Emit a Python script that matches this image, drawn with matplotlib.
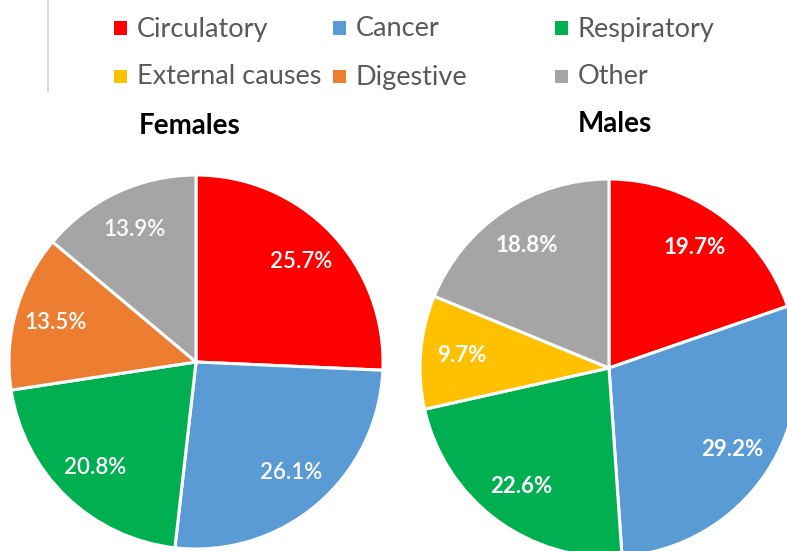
import matplotlib
matplotlib.use('Agg')
import matplotlib.pyplot as plt
from matplotlib.patches import Rectangle
from matplotlib.lines import Line2D

# data
female_labels = ['Circulatory', 'Cancer', 'Respiratory', 'Digestive', 'Other']
female_values = [25.7, 26.1, 20.8, 13.5, 13.9]
male_labels = ['Circulatory', 'Cancer', 'Respiratory', 'External causes', 'Other']
male_values = [19.7, 29.2, 22.6, 9.7, 18.8]

legend_order = ['Circulatory', 'Cancer', 'Respiratory',
                'External causes', 'Digestive', 'Other']
colours = {'Circulatory': '#FF0000', 'Cancer': '#5B9BD5', 'Respiratory': '#00B050',
           'External causes': '#FFC000', 'Digestive': '#ED7D31', 'Other': '#A5A5A5'}

W, H = 787, 551
plt.rcParams['font.family'] = ['Lato', 'DejaVu Sans']
fig = plt.figure(figsize=(W / 100, H / 100), dpi=100, facecolor='white')


def px_axes(cx, cy, r):
  # axes box in pixel coords (y from top)
  return fig.add_axes([(cx - r) / W, (H - cy - r) / H, 2 * r / W, 2 * r / H])


def draw_pie(ax, labels, values, weight):
  ax.pie(values, colors=[colours[l] for l in labels], startangle=90, counterclock=False,
         radius=1.0, autopct=lambda p: '{:.1f}%'.format(p), pctdistance=0.78,
         wedgeprops=dict(edgecolor='white', linewidth=2.2),
         textprops=dict(color='white', fontsize=16, fontweight=weight))
  ax.set_xlim(-1.0, 1.0)
  ax.set_ylim(-1.0, 1.0)
  ax.set_aspect('equal')
  ax.axis('off')


ax1 = px_axes(196, 362, 187)
draw_pie(ax1, female_labels, female_values, 'semibold')
ax2 = px_axes(609, 368, 189)
draw_pie(ax2, male_labels, male_values, 'bold')

fig.text(190 / W, 1 - 126 / H, 'Females', ha='center', va='center',
         fontsize=20, fontweight='bold', color='black')
fig.text(615 / W, 1 - 124 / H, 'Males', ha='center', va='center',
         fontsize=20, fontweight='bold', color='black')

# legend laid out by hand, 3 columns x 2 rows
col_x = [114, 333, 555]
row_y = [28, 76]
for i, name in enumerate(legend_order):
  x = col_x[i % 3]
  y = row_y[i // 3]
  fig.patches.append(Rectangle((x / W, 1 - (y + 6.5) / H), 13 / W, 13 / H,
                               transform=fig.transFigure, facecolor=colours[name],
                               edgecolor='none'))
  fig.text((x + 23) / W, 1 - (y + 1) / H, name, ha='left', va='center',
           fontsize=19.5, color='#595959')

# thin separator line at the top left
fig.add_artist(Line2D([48 / W, 48 / W], [1, 1 - 91 / H], transform=fig.transFigure,
                      color='#D9D9D9', linewidth=1.5))

fig.savefig('out.png', dpi=100, facecolor='white')
